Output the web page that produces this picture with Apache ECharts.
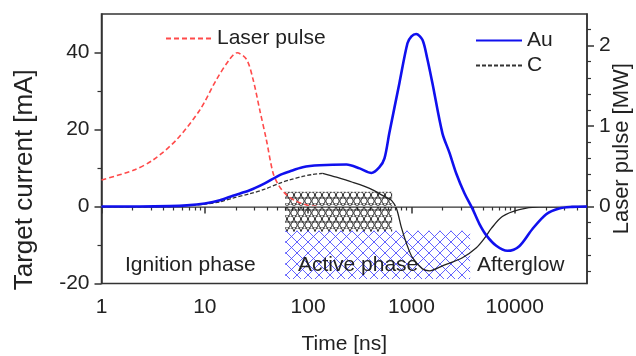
<!DOCTYPE html>
<html>
<head>
<meta charset="utf-8">
<script src="https://cdn.jsdelivr.net/npm/echarts@6/dist/echarts.min.js"></script>
<style>
  html, body { margin: 0; padding: 0; background: #fff; }
  #chart { width: 636px; height: 356px; }
</style>
</head>
<body>
<div id="chart"></div>
<script>
// Time axis (ns) tick labels
const timeTicks = [1, 10, 100, 1000, 10000];
const timeMinorTicks = [2,3,4,5,6,7,8,9,20,30,40,50,60,70,80,90,200,300,400,500,600,700,800,900,
  2000,3000,4000,5000,6000,7000,8000,9000,20000,30000,40000];
const currentTicks = [-20, 0, 20, 40];
const currentMinorTicks = [-10, 10, 30];
const powerTicks = [0, 1, 2];
const powerMinorTicks = [-0.8,-0.6,-0.4,-0.2,0.2,0.4,0.6,0.8,1.2,1.4,1.6,1.8,2.2];

// Laser pulse power [MW]
const laserTime  = [1, 2.03, 3.17, 5.33, 8.95, 13, 17.4, 20.5, 25.3, 29.3, 34, 39.4, 45.7, 52, 60, 74, 99, 124];
const laserPower = [0.33, 0.45, 0.58, 0.83, 1.20, 1.58, 1.83, 1.91, 1.83, 1.58, 1.20, 0.83, 0.42, 0.26, 0.16, 0.075, 0.015, 0];

// Target current, Au [mA]
const auTime = [1, 2.35, 4.59, 6.7, 10, 14, 18.7, 27.2, 38, 52.5, 66, 88.5, 129, 235, 315, 410, 490, 548, 610, 765,
  915, 1000, 1110, 1277, 1420, 1596, 1994, 2330, 2720, 3250, 3880, 4540, 5310, 6620, 8470, 11050, 14760, 20150, 26900, 35900, 50000];
const auCurrent = [0, 0, 0.1, 0.3, 0.8, 1.6, 2.8, 4.2, 6.0, 8.1, 9.1, 10.2, 10.7, 10.9, 9.9, 8.7, 10.2, 12.5, 19.0, 32.1,
  42.4, 44.2, 44.8, 43.3, 38.5, 32.0, 19.0, 14.0, 8.5, 3.5, -0.5, -4.5, -7.5, -10.2, -11.5, -10.3, -5.9, -2.0, -0.5, -0.1, 0];

// Target current, C [mA] (early part dashed, later part solid)
const cTimeEarly = [1, 2.35, 4.59, 6.7, 10, 14, 18.7, 27.2, 38, 52.5, 66, 88.5, 110, 138];
const cCurrentEarly = [0, -0.1, 0, 0.2, 0.6, 1.2, 2.2, 3.3, 4.5, 6.0, 6.9, 7.8, 8.3, 8.6];
const cTimeLate = [138, 188, 269, 393, 573, 641, 716, 800, 895, 1023, 1277, 1493, 1994, 3112, 4249, 5074, 5927, 7570, 11050, 17260, 50000];
const cCurrentLate = [8.6, 7.6, 6.3, 4.7, 2.3, 1.6, -0.5, -5.5, -9.6, -13.3, -16.2, -16.7, -15.4, -13.3, -10.7, -8.3, -5.7, -2.6, -0.8, -0.1, 0];

// Hatched regions: [tStart, tEnd, iTop, iBottom]
const carbonRegion = [60, 650, 3.8, -6.5];
const goldRegion = [60, 3700, -6.3, -18.8];

const MA_PER_MW = 20.9;
const FONT = '"Liberation Sans", Arial, sans-serif';

function pairs(xs, ys) { return xs.map((x, i) => [x, ys[i]]); }

function makePattern(draw, w, h) {
  const c = document.createElement('canvas');
  c.width = w; c.height = h;
  draw(c.getContext('2d'));
  return { image: c, repeat: 'repeat' };
}

const diamondPattern = makePattern(ctx => {
  ctx.strokeStyle = 'rgba(70,70,255,0.85)';
  ctx.lineWidth = 1;
  ctx.beginPath();
  ctx.moveTo(0, 0); ctx.lineTo(11, 11);
  ctx.moveTo(11, 0); ctx.lineTo(0, 11);
  ctx.stroke();
}, 11, 11);

const circlePattern = makePattern(ctx => {
  ctx.strokeStyle = 'rgba(30,30,30,0.9)';
  ctx.lineWidth = 1;
  const pts = [[3.5, 3], [10.5, 3], [0, 9], [7, 9], [14, 9]];
  for (const [x, y] of pts) {
    ctx.beginPath(); ctx.arc(x, y, 3.2, 0, Math.PI * 2); ctx.stroke();
  }
}, 14, 12);

const axisLine = { lineStyle: { color: '#333', width: 1.5 } };
const labelStyle = { color: '#222', fontSize: 21, fontFamily: FONT };
// Legend shows only the line sample, no marker
const legendItemStyle = { color: 'rgba(0,0,0,0)', borderWidth: 0, opacity: 0 };

const chart = echarts.init(document.getElementById('chart'), null, { renderer: 'canvas' });
chart.setOption({
  animation: false,
  backgroundColor: '#fff',
  grid: { left: 101.5, right: 49, top: 14, bottom: 72.5, outerBoundsMode: 'none', containLabel: false,
    show: true, borderColor: '#333', borderWidth: 1.5 },
  legend: [
    { data: ['Laser pulse'], left: 160, top: 23, itemWidth: 46, itemHeight: 14, itemStyle: legendItemStyle,
      textStyle: { fontSize: 21, fontFamily: FONT, color: '#222' } },
    { data: ['Au', 'C'], left: 470, top: 25, orient: 'vertical', itemGap: 4, itemWidth: 46, itemHeight: 14,
      itemStyle: legendItemStyle,
      textStyle: { fontSize: 21, fontFamily: FONT, color: '#222' } }
  ],
  xAxis: [
    { type: 'log', logBase: 10, min: 1, max: 50000,
      name: 'Time [ns]', nameLocation: 'middle', nameGap: 50,
      nameTextStyle: { fontSize: 21, fontFamily: FONT, color: '#222' },
      axisLine, splitLine: { show: false },
      axisTick: { customValues: timeTicks, length: 7, lineStyle: { color: '#333', width: 1.5 } },
      axisLabel: { customValues: timeTicks, margin: 13, formatter: v => String(v), ...labelStyle } },
    { type: 'log', logBase: 10, min: 1, max: 50000, position: 'bottom',
      axisLine: { show: false }, splitLine: { show: false }, axisLabel: { show: false },
      axisTick: { customValues: timeMinorTicks, length: 4, lineStyle: { color: '#333', width: 1.2 } } }
  ],
  yAxis: [
    { type: 'value', min: -20, max: 50, position: 'left',
      name: 'Target current [mA]', nameLocation: 'middle', nameGap: 64, nameRotate: 90,
      nameTextStyle: { fontSize: 26, fontFamily: FONT, color: '#222', padding: [0, 62, 0, 0] },
      axisLine: { show: true, ...axisLine }, splitLine: { show: false },
      axisTick: { show: true, customValues: currentTicks, length: 7, lineStyle: { color: '#333', width: 1.5 } },
      axisLabel: { customValues: currentTicks, margin: 12, ...labelStyle } },
    { type: 'value', min: -20 / MA_PER_MW, max: 50 / MA_PER_MW, position: 'right',
      name: 'Laser pulse [MW]', nameLocation: 'middle', nameGap: 24, nameRotate: 90, nameMoveOverlap: false,
      nameTextStyle: { fontSize: 22, fontFamily: FONT, color: '#222' },
      axisLine: { show: true, ...axisLine }, splitLine: { show: false },
      axisTick: { show: true, customValues: powerTicks, length: 7, lineStyle: { color: '#333', width: 1.5 } },
      axisLabel: { customValues: powerTicks, margin: 12, ...labelStyle } },
    { type: 'value', min: -20, max: 50, position: 'left',
      axisLine: { show: false }, splitLine: { show: false }, axisLabel: { show: false },
      axisTick: { show: true, customValues: currentMinorTicks, length: 4, lineStyle: { color: '#333', width: 1.2 } } },
    { type: 'value', min: -20 / MA_PER_MW, max: 50 / MA_PER_MW, position: 'right',
      axisLine: { show: false }, splitLine: { show: false }, axisLabel: { show: false },
      axisTick: { show: true, customValues: powerMinorTicks, length: 4, lineStyle: { color: '#333', width: 1.2 } } }
  ],
  series: [
    { name: 'C', type: 'line', xAxisIndex: 0, yAxisIndex: 0, data: pairs(cTimeEarly, cCurrentEarly),
      symbol: 'none', smooth: 0.3, z: 3,
      lineStyle: { color: '#333', width: 1.3, type: [4, 2] }, itemStyle: { color: '#333' },
      markLine: { silent: true, symbol: 'none', label: { show: false },
        lineStyle: { color: '#999', width: 1.2, type: 'solid' }, data: [{ yAxis: 0 }] },
      markArea: { silent: true, data: [
        [{ xAxis: carbonRegion[0], yAxis: carbonRegion[2], itemStyle: { color: circlePattern } },
         { xAxis: carbonRegion[1], yAxis: carbonRegion[3] }],
        [{ xAxis: goldRegion[0], yAxis: goldRegion[2], itemStyle: { color: diamondPattern } },
         { xAxis: goldRegion[1], yAxis: goldRegion[3] }]
      ] } },
    { name: 'C', type: 'line', xAxisIndex: 0, yAxisIndex: 0, data: pairs(cTimeLate, cCurrentLate),
      symbol: 'none', smooth: 0.3, z: 3,
      lineStyle: { color: '#222', width: 1.3 }, itemStyle: { color: '#333' } },
    { name: 'Laser pulse', type: 'line', xAxisIndex: 0, yAxisIndex: 1, data: pairs(laserTime, laserPower),
      symbol: 'none', smooth: 0.3, z: 4,
      lineStyle: { color: '#ff4a4a', width: 1.6, type: [5, 3] }, itemStyle: { color: '#ff4a4a' } },
    { name: 'Au', type: 'line', xAxisIndex: 0, yAxisIndex: 0, data: pairs(auTime, auCurrent),
      symbol: 'none', smooth: 0.3, z: 5,
      lineStyle: { color: '#1010ee', width: 2.6 }, itemStyle: { color: '#1010ee' } }
  ],
  graphic: [
    { type: 'text', left: 125, top: 255, z: 10, style: { text: 'Ignition phase', font: '21px ' + FONT, fill: '#222' } },
    { type: 'text', left: 298, top: 255, z: 10, style: { text: 'Active phase', font: '21px ' + FONT, fill: '#222' } },
    { type: 'text', left: 477, top: 255, z: 10, style: { text: 'Afterglow', font: '21px ' + FONT, fill: '#222' } }
  ]
});
</script>
</body>
</html>
